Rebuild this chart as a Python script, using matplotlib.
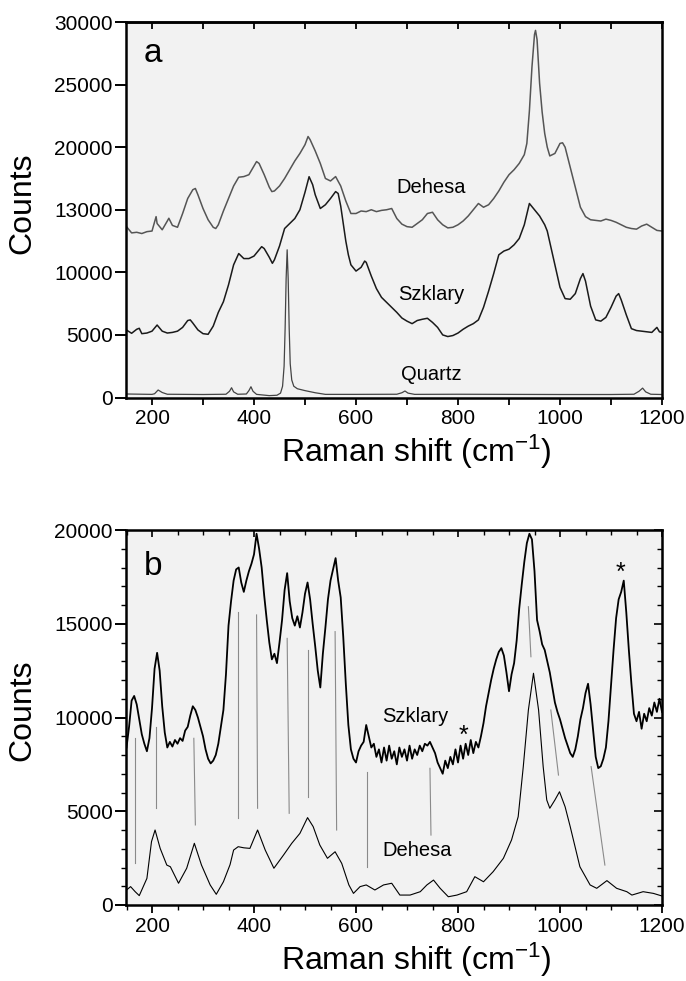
import numpy as np
import matplotlib
matplotlib.use("Agg")
import matplotlib.pyplot as plt
from matplotlib.ticker import MultipleLocator, FixedLocator

plt.rcParams['font.family'] = ['Liberation Sans', 'DejaVu Sans']
plt.rcParams['mathtext.fontset'] = 'custom'
plt.rcParams['mathtext.rm'] = 'Liberation Sans'
plt.rcParams['mathtext.it'] = 'Liberation Sans'

# ---------------- Panel a data ----------------
deh_a_x = [150, 160, 170, 180, 190, 200, 208, 210, 220, 230, 233, 240, 250, 260, 270, 280, 285, 290,
           300, 310, 320, 325, 330, 340, 350, 360, 370, 380, 390, 400, 405, 410, 420, 430, 435, 440,
           450, 460, 470, 480, 490, 500, 506, 510, 520, 530, 540, 550, 560, 570, 580, 590, 600, 610,
           620, 630, 640, 650, 660, 670, 680, 690, 700, 710, 720, 730, 740, 750, 760, 770, 780, 790,
           800, 810, 820, 830, 840, 850, 860, 870, 880, 890, 900, 910, 920, 930, 935, 940, 945, 950,
           952, 955, 960, 965, 970, 975, 980, 990, 1000, 1005, 1010, 1020, 1030, 1040, 1050, 1060,
           1070, 1080, 1090, 1100, 1110, 1120, 1130, 1140, 1150, 1160, 1170, 1180, 1190, 1200]
deh_a_y = [13650, 13150, 13200, 13100, 13250, 13300, 14450, 13900, 13400, 14100, 14320, 13750, 13600,
           14700, 15900, 16600, 16700, 16200, 15100, 14200, 13600, 13500, 13800, 14900, 15900, 16900,
           17600, 17650, 17800, 18500, 18850, 18700, 17800, 16800, 16450, 16500, 16900, 17500, 18200,
           18900, 19500, 20200, 20850, 20600, 19700, 18700, 17500, 17300, 17650, 16900, 15700, 14700,
           14700, 14900, 14850, 15000, 14850, 14950, 15000, 15100, 14300, 13850, 13650, 13600, 13900,
           14200, 14700, 14800, 14200, 13800, 13550, 13600, 13800, 14100, 14500, 15000, 15500, 15200,
           15400, 15900, 16500, 17200, 17800, 18200, 18700, 19400, 20300, 22900, 26400, 29000, 29330,
           28600, 25100, 22800, 21100, 20000, 19300, 19500, 20300, 20350, 20000, 18400, 16800, 15200,
           14450, 14200, 14150, 14100, 14250, 14150, 14000, 13800, 13600, 13500, 13450, 13700, 13850,
           13600, 13350, 13300]

szk_a_x = [150, 160, 170, 175, 180, 190, 200, 210, 220, 230, 240, 250, 260, 270, 275, 280, 290, 300,
           310, 320, 330, 340, 350, 360, 370, 380, 390, 400, 410, 415, 420, 430, 436, 440, 450, 460,
           470, 480, 490, 500, 508, 515, 520, 530, 540, 550, 560, 565, 570, 575, 580, 585, 590, 600,
           610, 617, 620, 630, 640, 650, 660, 670, 680, 690, 700, 710, 720, 730, 740, 750, 760, 770,
           780, 790, 800, 810, 820, 830, 840, 850, 860, 870, 880, 890, 900, 910, 920, 930, 940, 950,
           960, 970, 975, 980, 990, 1000, 1010, 1020, 1030, 1040, 1045, 1050, 1055, 1060, 1070, 1080,
           1090, 1100, 1110, 1115, 1120, 1130, 1140, 1150, 1160, 1170, 1180, 1190, 1195, 1200]
szk_a_y = [5390, 5130, 5450, 5530, 5100, 5150, 5300, 5790, 5300, 5150, 5200, 5300, 5600, 6150, 6200,
           5950, 5400, 5100, 5050, 5700, 6800, 7650, 9000, 10600, 11500, 11100, 11100, 11300, 11800,
           12050, 11900, 11200, 10720, 11000, 12100, 13500, 13900, 14300, 15000, 16400, 17640, 17000,
           16200, 15100, 15400, 15900, 16450, 16300, 15300, 13900, 12500, 11400, 10600, 10100, 10400,
           10900, 10800, 9700, 8700, 8000, 7600, 7200, 6800, 6350, 6100, 5900, 6150, 6250, 6330, 6000,
           5600, 5000, 4870, 4950, 5150, 5450, 5700, 5900, 6200, 7200, 8500, 9900, 11400, 11700, 11850,
           12200, 12700, 13800, 15500, 15000, 14500, 13800, 13300, 12400, 10600, 8800, 7900, 7850, 8300,
           9500, 9900, 9300, 8300, 7300, 6200, 6100, 6400, 7200, 8100, 8300, 7800, 6600, 5500, 5350,
           5300, 5250, 5200, 5600, 5250, 5200]

qtz_x = [150, 200, 205, 212, 220, 230, 300, 345, 352, 356, 360, 368, 385, 390, 394, 398, 405, 430,
         445, 452, 456, 459, 461, 463, 465, 467, 469, 471, 474, 478, 485, 500, 520, 540, 600, 680, 690,
         696, 702, 715, 800, 900, 1000, 1100, 1145, 1155, 1162, 1168, 1178, 1200]
qtz_y = [280, 250, 300, 600, 400, 260, 240, 260, 500, 780, 450, 260, 280, 550, 860, 500, 250, 150,
         180, 350, 900, 2500, 5500, 9500, 11800, 9500, 5500, 2700, 1400, 900, 700, 550, 380, 250, 250,
         260, 380, 520, 350, 250, 260, 250, 240, 240, 260, 500, 750, 450, 260, 240]

a_yticks = [0, 5000, 10000, 15000, 20000, 25000, 30000]
a_yticklabels = ['0', '5000', '10000', '13000', '20000', '25000', '30000']

# ---------------- Panel b data ----------------
szk_b_x = np.arange(150, 1201, 5)
szk_b_y = [8400, 9500, 10900, 11150, 10700, 9900, 9100, 8600, 8200, 8900,
           10500, 12600, 13450, 12500, 10600, 9200, 8400, 8700, 8450, 8800,
           8600, 8900, 8750, 9300, 9500, 10100, 10600, 10400, 10000, 9500,
           9000, 8300, 7800, 7550, 7700, 8000, 8600, 9500, 10400, 12300,
           14900, 16200, 17300, 17900, 18000, 17200, 16700, 17300, 17800, 18200,
           18700, 19800, 19000, 18000, 16500, 15200, 14000, 13100, 13400, 12900,
           14000, 15200, 16800, 17700, 16200, 15300, 14900, 15400, 14800, 15600,
           16600, 17200, 16300, 15000, 13800, 12500, 11600, 13400, 14800, 16300,
           17300, 17900, 18500, 17300, 16400, 14300, 11800, 9600, 8300, 7800,
           7600, 8200, 8500, 8700, 9600, 9000, 8400, 8600, 7900, 8300,
           7600, 8400, 7700, 8500, 7800, 8200, 7500, 8400, 7900, 8300,
           7700, 8500, 7800, 8300, 8000, 8500, 8200, 8600, 8500, 8700,
           8400, 8100, 7600, 7300, 7000, 7700, 7300, 7900, 7500, 8300,
           7600, 8500, 7800, 8600, 8000, 8800, 8100, 8700, 8400, 9000,
           9700, 10600, 11300, 12000, 12600, 13100, 13500, 13700, 13300, 12400,
           11400, 12300, 12900, 14100, 15800, 17100, 18300, 19300, 19800, 19500,
           17800, 15200, 14600, 13900, 13600, 13000, 12400, 11600, 10800, 10300,
           9900, 9400, 8900, 8500, 8100, 7900, 8300, 9000, 9900, 10500,
           11300, 11800, 10700, 9300, 7900, 7300, 7400, 7800, 8400, 9800,
           11700, 13600, 15300, 16300, 16700, 17300, 15600, 13600, 11800, 10200,
           9800, 10300, 9400, 10200, 9800, 10500, 10100, 10800, 10300, 11000,
           10300]

deh_b_x = [150, 158, 167, 175, 190, 199, 206, 216, 229, 236, 252, 268, 283, 297, 314, 326, 340, 353,
           360, 369, 380, 392, 407, 422, 439, 458, 474, 490, 505, 516, 529, 544, 559, 572, 586, 595,
           608, 620, 637, 654, 670, 686, 706, 726, 739, 752, 765, 781, 798, 817, 833, 850, 869, 889,
           905, 918, 928, 938, 948, 958, 967, 974, 980, 990, 999, 1010, 1020, 1039, 1059, 1072, 1092,
           1111, 1131, 1141, 1163, 1183, 1200]
deh_b_y = [800, 980, 710, 500, 1420, 3380, 4000, 3020, 2130, 2040, 1160, 1960, 3290, 2130, 1070, 570,
           1240, 2150, 2930, 3110, 3050, 3020, 4000, 2930, 1960, 2670, 3290, 3820, 4660, 4180, 3200,
           2490, 2840, 2220, 1070, 620, 980, 1070, 800, 1070, 1160, 530, 530, 710, 1070, 1330, 890,
           440, 530, 710, 1510, 1240, 1780, 2490, 3470, 4710, 7380, 10400, 12360, 10400, 7380, 5600,
           5160, 5600, 6040, 5240, 4180, 2040, 1070, 890, 1300, 890, 710, 530, 710, 620, 480]

link_top_x = [166, 207, 282, 369, 405, 465, 505, 559, 622, 745, 938, 982, 1061]
link_top_y = [8890, 9510, 8890, 15640, 15470, 14220, 13600, 14580, 7110, 7290, 15910, 10400, 7380]
link_bot_x = [166, 207, 285, 369, 407, 469, 505, 562, 622, 747, 943, 997, 1088]
link_bot_y = [2220, 5160, 4270, 4620, 5160, 4890, 5780, 4000, 2040, 3730, 13240, 6930, 2130]

# ---------------- Figure ----------------
W, H = 686, 981
fig = plt.figure(figsize=(W / 100, H / 100), dpi=100)
bg = '#f2f2f2'
axA = fig.add_axes([126 / W, 1 - 397.5 / H, 536 / W, 375.5 / H], facecolor=bg)
axB = fig.add_axes([126 / W, 1 - 905 / H, 536 / W, 375 / H], facecolor=bg)

tick_fs = 15
lab_fs = 23

# Panel a
axA.plot(deh_a_x, deh_a_y, color='#555555', lw=1.1)
axA.plot(szk_a_x, szk_a_y, color='#1a1a1a', lw=1.1)
axA.plot(qtz_x, qtz_y, color='#444444', lw=0.9)
axA.set_xlim(149, 1200)
axA.set_ylim(0, 30000)
axA.yaxis.set_major_locator(FixedLocator(a_yticks))
axA.set_yticklabels(a_yticklabels)
axA.xaxis.set_major_locator(MultipleLocator(200))
axA.xaxis.set_minor_locator(MultipleLocator(100))
axA.tick_params(axis='y', which='major', direction='out', length=8, width=1.4, pad=1.5,
                labelsize=tick_fs, right=False)
axA.tick_params(axis='x', which='both', direction='out', length=5, width=1.3, pad=3,
                labelsize=tick_fs, top=False)
secA = axA.secondary_xaxis('top')
secA.xaxis.set_major_locator(MultipleLocator(100))
secA.tick_params(axis='x', direction='in', length=5, width=1.3, labeltop=False)
secA.spines['top'].set_linewidth(1.8)
fig.text(22 / W, 1 - 203 / H, 'Counts', fontsize=lab_fs, rotation=90, ha='center', va='center')
fig.text(416 / W, 1 - 452 / H, 'Raman shift (cm$^{-1}$)', fontsize=lab_fs, ha='center', va='center')
axA.text(202, 27500, 'a', fontsize=24, ha='center', va='center')
axA.text(748, 16740, 'Dehesa', fontsize=14.5, ha='center', va='center')
axA.text(747, 8190, 'Szklary', fontsize=14.5, ha='center', va='center')
axA.text(748, 1800, 'Quartz', fontsize=14.5, ha='center', va='center')

# Panel b
for xt, yt, xb, yb in zip(link_top_x, link_top_y, link_bot_x, link_bot_y):
    axB.plot([xt, xb], [yt, yb], color='#8a8a8a', lw=0.8)
axB.plot(szk_b_x, szk_b_y, color='black', lw=1.3)
axB.plot(deh_b_x, deh_b_y, color='black', lw=0.8)
axB.set_xlim(149, 1200)
axB.set_ylim(0, 20000)
axB.yaxis.set_major_locator(MultipleLocator(5000))
axB.yaxis.set_minor_locator(MultipleLocator(1000))
axB.xaxis.set_major_locator(MultipleLocator(200))
axB.xaxis.set_minor_locator(MultipleLocator(50))
axB.tick_params(axis='y', which='major', direction='out', length=8, width=1.4, pad=1.5,
                labelsize=tick_fs, right=False)
axB.tick_params(axis='y', which='minor', direction='out', length=3.5, width=1.0, right=False)
axB.tick_params(axis='x', which='major', direction='out', length=6, width=1.3, pad=3,
                labelsize=tick_fs, top=False)
axB.tick_params(axis='x', which='minor', direction='out', length=3.5, width=1.0, top=False)
secBx = axB.secondary_xaxis('top')
secBx.xaxis.set_major_locator(MultipleLocator(200))
secBx.xaxis.set_minor_locator(MultipleLocator(50))
secBx.tick_params(axis='x', which='major', direction='in', length=5, width=1.2, labeltop=False)
secBx.tick_params(axis='x', which='minor', direction='in', length=3.5, width=1.0, labeltop=False)
secBy = axB.secondary_yaxis('right')
secBy.yaxis.set_major_locator(MultipleLocator(5000))
secBy.yaxis.set_minor_locator(MultipleLocator(1000))
secBy.tick_params(axis='y', which='major', direction='in', length=6, width=1.2, labelright=False)
secBy.tick_params(axis='y', which='minor', direction='in', length=3.5, width=1.0, labelright=False)
fig.text(22 / W, 1 - 710 / H, 'Counts', fontsize=lab_fs, rotation=90, ha='center', va='center')
fig.text(416 / W, 1 - 960 / H, 'Raman shift (cm$^{-1}$)', fontsize=lab_fs, ha='center', va='center')
axB.text(202, 18040, 'b', fontsize=24, ha='center', va='center')
axB.text(716, 10040, 'Szklary', fontsize=14.5, ha='center', va='center')
axB.text(810, 9000, '*', fontsize=18, ha='center', va='center')
axB.text(1118, 17700, '*', fontsize=18, ha='center', va='center')
axB.text(719, 2930, 'Dehesa', fontsize=14.5, ha='center', va='center')

for ax in (axA, axB):
    for s in ax.spines.values():
        s.set_linewidth(1.8)

fig.savefig('out.png', dpi=100)
